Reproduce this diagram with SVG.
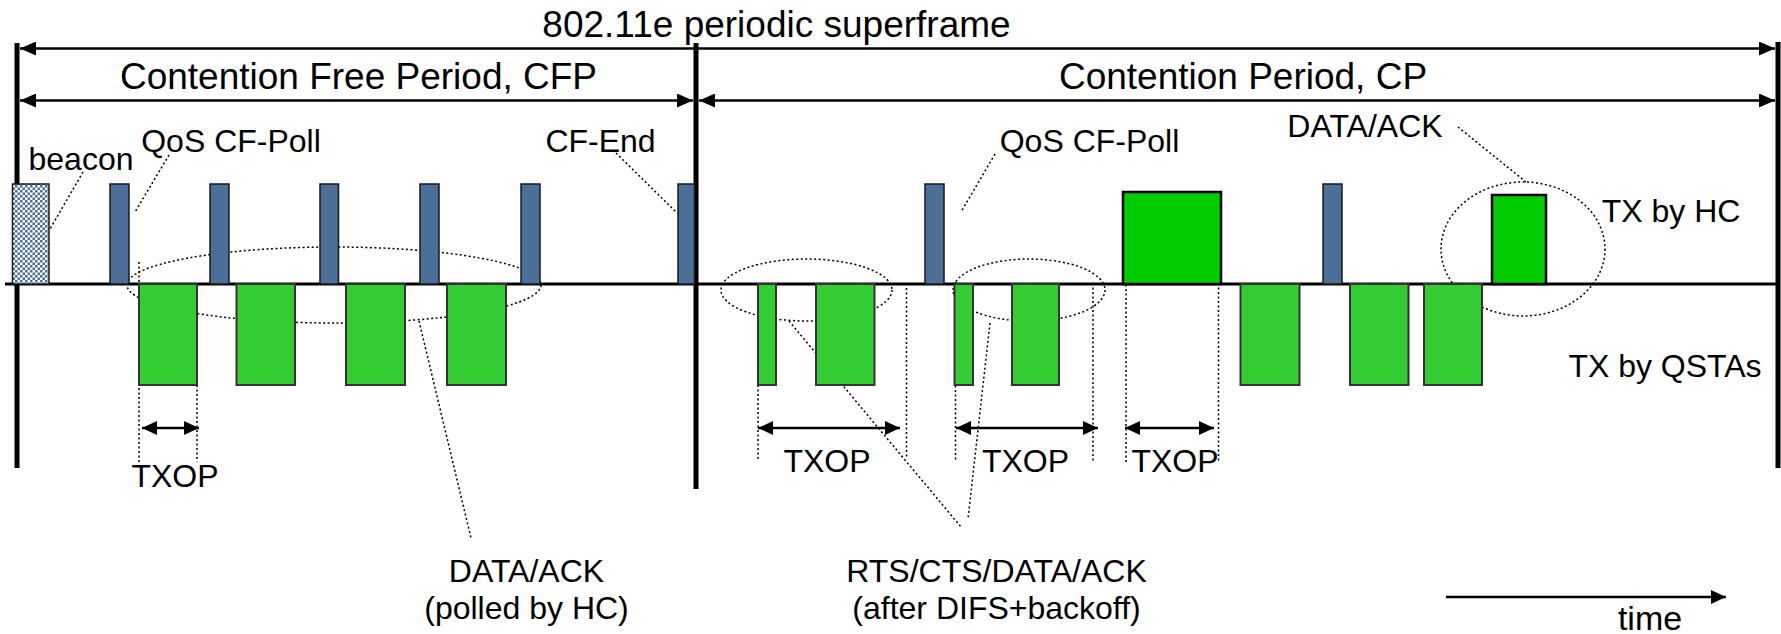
<svg xmlns="http://www.w3.org/2000/svg" width="1781" height="634" viewBox="0 0 1781 634">
<defs>
<pattern id="chk" width="5" height="5" patternUnits="userSpaceOnUse">
<rect width="5" height="5" fill="#ffffff"/>
<rect width="2.5" height="2.5" fill="#4a6f9a"/>
<rect x="2.5" y="2.5" width="2.5" height="2.5" fill="#4a6f9a"/>
</pattern>
<marker id="ah" viewBox="0 0 16 14" refX="16" refY="7" markerWidth="16" markerHeight="14" markerUnits="userSpaceOnUse" orient="auto-start-reverse">
<path d="M0,0 L16,7 L0,14 Z" fill="#000"/>
</marker>
<marker id="ahs" viewBox="0 0 15 14" refX="15" refY="7" markerWidth="15" markerHeight="14" markerUnits="userSpaceOnUse" orient="auto-start-reverse">
<path d="M0,0 L15,7 L0,14 Z" fill="#000"/>
</marker>
</defs>
<style>
text{font-family:"Liberation Sans",Arial,sans-serif;fill:#000;text-anchor:middle}
.big{font-size:37px}
.sm{font-size:32px}
.bar{fill:#4b6f96;stroke:#1a1a1a;stroke-width:1.5}
.sta{fill:#33cc33;stroke:#333;stroke-width:2}
.hc{fill:#00cc00;stroke:#000;stroke-width:2.5}
.dot{fill:none;stroke:#000;stroke-width:1.5;stroke-dasharray:2 2.5}
.thick{stroke:#000;stroke-width:5}
.arr{stroke:#000;stroke-width:2.5;fill:none}
</style>
<rect width="1781" height="634" fill="#fff"/>

<g id="frame">
<line class="thick" x1="17" y1="43" x2="17" y2="468"/>
<line class="thick" x1="696" y1="43" x2="696" y2="489"/>
<line class="thick" x1="1778" y1="42" x2="1778" y2="468"/>
<line x1="5" y1="284" x2="1778" y2="284" stroke="#000" stroke-width="3"/>
</g>

<g id="connectors">
<line class="arr" x1="20" y1="48.5" x2="1775" y2="48.5" marker-start="url(#ah)" marker-end="url(#ah)"/>
<line class="arr" x1="20" y1="100.5" x2="693" y2="100.5" marker-start="url(#ah)" marker-end="url(#ah)"/>
<line class="arr" x1="699" y1="100.5" x2="1775" y2="100.5" marker-start="url(#ah)" marker-end="url(#ah)"/>
<line class="arr" x1="142" y1="428" x2="199" y2="428" marker-start="url(#ahs)" marker-end="url(#ahs)"/>
<line class="arr" x1="758" y1="428" x2="900" y2="428" marker-start="url(#ahs)" marker-end="url(#ahs)"/>
<line class="arr" x1="956" y1="428" x2="1098" y2="428" marker-start="url(#ahs)" marker-end="url(#ahs)"/>
<line class="arr" x1="1125" y1="428" x2="1214" y2="428" marker-start="url(#ahs)" marker-end="url(#ahs)"/>
<line class="arr" x1="1446" y1="597" x2="1726" y2="597" marker-end="url(#ahs)"/>
<!-- leaders -->
<line class="dot" x1="83" y1="172" x2="50" y2="229"/>
<line class="dot" x1="169" y1="155" x2="135" y2="212"/>
<line class="dot" x1="616" y1="153" x2="676" y2="212"/>
<line class="dot" x1="995" y1="154" x2="961" y2="212"/>
<line class="dot" x1="1458" y1="127" x2="1526" y2="182"/>
<line class="dot" x1="419" y1="321" x2="471" y2="538"/>
<line class="dot" x1="789" y1="321" x2="961" y2="527"/>
<line class="dot" x1="990" y1="323" x2="968" y2="519"/>
<!-- txop verticals -->
<line class="dot" x1="139" y1="262" x2="139" y2="463"/>
<line class="dot" x1="197" y1="385" x2="197" y2="462"/>
<line class="dot" x1="758" y1="385" x2="758" y2="460"/>
<line class="dot" x1="906.5" y1="288" x2="906.5" y2="458"/>
<line class="dot" x1="955.5" y1="282" x2="955.5" y2="460"/>
<line class="dot" x1="1093" y1="283" x2="1093" y2="461"/>
<line class="dot" x1="1126" y1="280" x2="1126" y2="462"/>
<line class="dot" x1="1218.5" y1="283" x2="1218.5" y2="462"/>
<!-- ellipses -->
<ellipse class="dot" cx="334" cy="285" rx="207" ry="38"/>
<ellipse class="dot" cx="806.5" cy="290" rx="85.5" ry="31"/>
<ellipse class="dot" cx="1029" cy="290" rx="76" ry="31"/>
<ellipse class="dot" cx="1523" cy="249" rx="82" ry="67"/>
</g>

<g id="beacon"><rect x="12.5" y="184" width="36.5" height="100" fill="url(#chk)" stroke="#1a1a1a" stroke-width="1.5"/></g>
<g id="poll-cfp">
<rect class="bar" x="110" y="184" width="19" height="100"/>
<rect class="bar" x="210" y="184" width="19" height="100"/>
<rect class="bar" x="320" y="184" width="18.5" height="100"/>
<rect class="bar" x="420" y="184" width="19" height="100"/>
<rect class="bar" x="521" y="184" width="19" height="100"/>
</g>
<g id="cf-end"><rect class="bar" x="678" y="184" width="16.5" height="100"/></g>
<g id="data-cfp">
<rect class="sta" x="139" y="284" width="58" height="101"/>
<rect class="sta" x="236.5" y="284" width="58.5" height="101"/>
<rect class="sta" x="346" y="284" width="59" height="101"/>
<rect class="sta" x="447" y="284" width="59" height="101"/>
</g>
<g id="cp-frames">
<rect class="sta" x="758" y="284" width="18" height="101"/>
<rect class="sta" x="816" y="284" width="58.5" height="101"/>
<rect class="bar" x="925" y="184" width="19" height="100"/>
<rect class="sta" x="954.5" y="284" width="18.5" height="101"/>
<rect class="sta" x="1012" y="284" width="47" height="101"/>
<rect class="hc" x="1123" y="192" width="98" height="92"/>
<rect class="sta" x="1240.5" y="284" width="59" height="101"/>
<rect class="bar" x="1323" y="184" width="19" height="100"/>
<rect class="sta" x="1350" y="284" width="58.5" height="101"/>
<rect class="sta" x="1424" y="284" width="58" height="101"/>
<rect class="hc" x="1492" y="195" width="54" height="89"/>
</g>

<g id="labels">
<text class="big" x="776.5" y="37">802.11e periodic superframe</text>
<text class="big" x="358.5" y="89">Contention Free Period, CFP</text>
<text class="big" x="1243" y="89">Contention Period, CP</text>
<text class="sm" x="81" y="170">beacon</text>
<text class="sm" x="231" y="152">QoS CF-Poll</text>
<text class="sm" x="600.5" y="152">CF-End</text>
<text class="sm" x="1089.5" y="152">QoS CF-Poll</text>
<text class="sm" x="1365" y="137">DATA/ACK</text>
<text class="sm" x="1671" y="222">TX by HC</text>
<text class="sm" x="1665" y="377">TX by QSTAs</text>
<text class="sm" x="175" y="487">TXOP</text>
<text class="sm" x="827" y="472">TXOP</text>
<text class="sm" x="1025.5" y="472">TXOP</text>
<text class="sm" x="1175" y="472">TXOP</text>
<text class="sm" x="526.5" y="582">DATA/ACK</text>
<text class="sm" x="526.5" y="619">(polled by HC)</text>
<text class="sm" x="996.5" y="582">RTS/CTS/DATA/ACK</text>
<text class="sm" x="996.5" y="619">(after DIFS+backoff)</text>
<text class="sm" x="1650" y="630" style="font-size:34px">time</text>
</g>
</svg>
